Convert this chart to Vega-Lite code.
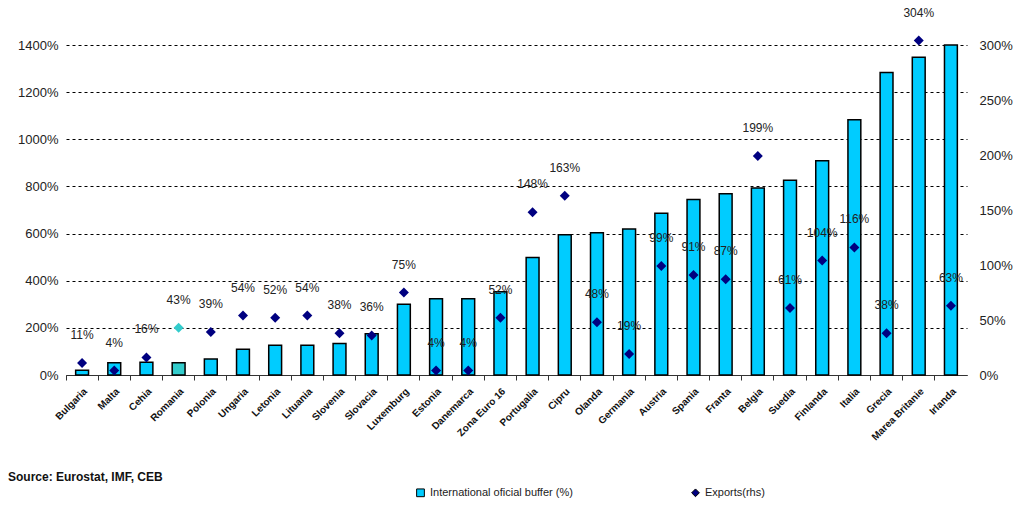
{
  "$schema": "https://vega.github.io/schema/vega-lite/v6.json",
  "autosize": {"type": "none"},
  "width": 901,
  "height": 330,
  "padding": {"left": 66, "top": 45, "right": 61, "bottom": 130},
  "background": "white",
  "config": {
    "view": {"stroke": null},
    "font": "Liberation Sans",
    "axis": {"labelFont": "Liberation Sans", "titleFont": "Liberation Sans"},
    "legend": {"labelFont": "Liberation Sans"}
  },
  "title": {
    "text": "Source: Eurostat, IMF, CEB",
    "orient": "bottom",
    "anchor": "start",
    "frame": "group",
    "dx": -58,
    "offset": -27,
    "fontSize": 12,
    "fontWeight": "bold",
    "color": "#111"
  },
  "data": {
    "values": [
      {"country": "Bulgaria", "buffer": 20, "exports": 11, "bs": "International oficial buffer (%)", "es": "Exports(rhs)"},
      {"country": "Malta", "buffer": 52, "exports": 4, "bs": "International oficial buffer (%)", "es": "Exports(rhs)"},
      {"country": "Cehia", "buffer": 54, "exports": 16, "bs": "International oficial buffer (%)", "es": "Exports(rhs)"},
      {"country": "Romania", "buffer": 52, "exports": 43, "bs": "Romania buffer", "es": "Romania exports"},
      {"country": "Polonia", "buffer": 68, "exports": 39, "bs": "International oficial buffer (%)", "es": "Exports(rhs)"},
      {"country": "Ungaria", "buffer": 109, "exports": 54, "bs": "International oficial buffer (%)", "es": "Exports(rhs)"},
      {"country": "Letonia", "buffer": 126, "exports": 52, "bs": "International oficial buffer (%)", "es": "Exports(rhs)"},
      {"country": "Lituania", "buffer": 126, "exports": 54, "bs": "International oficial buffer (%)", "es": "Exports(rhs)"},
      {"country": "Slovenia", "buffer": 134, "exports": 38, "bs": "International oficial buffer (%)", "es": "Exports(rhs)"},
      {"country": "Slovacia", "buffer": 175, "exports": 36, "bs": "International oficial buffer (%)", "es": "Exports(rhs)"},
      {"country": "Luxemburg", "buffer": 300, "exports": 75, "bs": "International oficial buffer (%)", "es": "Exports(rhs)"},
      {"country": "Estonia", "buffer": 324, "exports": 4, "bs": "International oficial buffer (%)", "es": "Exports(rhs)"},
      {"country": "Danemarca", "buffer": 324, "exports": 4, "bs": "International oficial buffer (%)", "es": "Exports(rhs)"},
      {"country": "Zona Euro 16", "buffer": 353, "exports": 52, "bs": "International oficial buffer (%)", "es": "Exports(rhs)"},
      {"country": "Portugalia", "buffer": 498, "exports": 148, "bs": "International oficial buffer (%)", "es": "Exports(rhs)"},
      {"country": "Cipru", "buffer": 595, "exports": 163, "bs": "International oficial buffer (%)", "es": "Exports(rhs)"},
      {"country": "Olanda", "buffer": 604, "exports": 48, "bs": "International oficial buffer (%)", "es": "Exports(rhs)"},
      {"country": "Germania", "buffer": 619, "exports": 19, "bs": "International oficial buffer (%)", "es": "Exports(rhs)"},
      {"country": "Austria", "buffer": 686, "exports": 99, "bs": "International oficial buffer (%)", "es": "Exports(rhs)"},
      {"country": "Spania", "buffer": 745, "exports": 91, "bs": "International oficial buffer (%)", "es": "Exports(rhs)"},
      {"country": "Franta", "buffer": 769, "exports": 87, "bs": "International oficial buffer (%)", "es": "Exports(rhs)"},
      {"country": "Belgia", "buffer": 793, "exports": 199, "bs": "International oficial buffer (%)", "es": "Exports(rhs)"},
      {"country": "Suedia", "buffer": 826, "exports": 61, "bs": "International oficial buffer (%)", "es": "Exports(rhs)"},
      {"country": "Finlanda", "buffer": 909, "exports": 104, "bs": "International oficial buffer (%)", "es": "Exports(rhs)"},
      {"country": "Italia", "buffer": 1083, "exports": 116, "bs": "International oficial buffer (%)", "es": "Exports(rhs)"},
      {"country": "Grecia", "buffer": 1283, "exports": 38, "bs": "International oficial buffer (%)", "es": "Exports(rhs)"},
      {"country": "Marea Britanie", "buffer": 1348, "exports": 304, "bs": "International oficial buffer (%)", "es": "Exports(rhs)"},
      {"country": "Irlanda", "buffer": 1400, "exports": 63, "bs": "International oficial buffer (%)", "es": "Exports(rhs)"}
    ]
  },
  "encoding": {
    "x": {
      "field": "country",
      "type": "nominal",
      "sort": null,
      "scale": {"paddingInner": 0, "paddingOuter": 0},
      "axis": {
        "title": null,
        "labelAngle": -45,
        "labelAlign": "right",
        "labelBaseline": "top",
        "labelFontSize": 10,
        "labelFontWeight": "bold",
        "labelColor": "#111",
        "labelPadding": 6,
        "bandPosition": 0,
        "ticks": true,
        "tickSize": 5,
        "tickColor": "#333",
        "domainColor": "#333",
        "domainWidth": 1,
        "grid": false
      }
    }
  },
  "layer": [
    {
      "mark": {"type": "bar", "width": {"band": 0.4}, "stroke": "black", "strokeWidth": 1.5},
      "encoding": {
        "y": {
          "field": "buffer",
          "type": "quantitative",
          "scale": {"domain": [0, 1400], "nice": false},
          "axis": {
            "title": null,
            "values": [0, 200, 400, 600, 800, 1000, 1200, 1400],
            "labelExpr": "datum.value + '%'",
            "labelFontSize": 13,
            "labelColor": "#222",
            "labelPadding": 8,
            "domain": false,
            "ticks": false,
            "grid": true,
            "gridColor": "black",
            "gridDash": [3, 3],
            "gridWidth": 1
          }
        },
        "color": {
          "field": "bs",
          "type": "nominal",
          "scale": {
            "domain": ["International oficial buffer (%)", "Exports(rhs)", "Romania buffer", "Romania exports"],
            "range": ["#00CCFF", "#000080", "#33CCCC", "#33CCCC"]
          },
          "legend": {
            "values": ["International oficial buffer (%)", "Exports(rhs)"],
            "title": null,
            "orient": "none",
            "direction": "horizontal",
            "legendX": 349,
            "legendY": 442,
            "labelFontSize": 11,
            "labelColor": "#222",
            "columnPadding": 116,
            "symbolSize": 60,
            "symbolStrokeColor": "black",
            "symbolStrokeWidth": 1,
            "labelLimit": 300
          }
        }
      }
    },
    {
      "mark": {"type": "point", "filled": true, "size": 100, "opacity": 1},
      "encoding": {
        "y": {
          "field": "exports",
          "type": "quantitative",
          "scale": {"domain": [0, 300], "nice": false},
          "axis": {
            "title": null,
            "orient": "right",
            "values": [0, 50, 100, 150, 200, 250, 300],
            "labelExpr": "datum.value + '%'",
            "labelFontSize": 13,
            "labelColor": "#222",
            "labelPadding": 12,
            "domain": false,
            "ticks": false,
            "grid": false
          }
        },
        "color": {"field": "es", "type": "nominal"},
        "shape": {
          "field": "es",
          "type": "nominal",
          "scale": {
            "domain": ["International oficial buffer (%)", "Exports(rhs)", "Romania buffer", "Romania exports"],
            "range": ["square", "diamond", "square", "diamond"]
          },
          "legend": {
            "values": ["International oficial buffer (%)", "Exports(rhs)"],
            "title": null,
            "orient": "none",
            "direction": "horizontal",
            "legendX": 349,
            "legendY": 442,
            "labelFontSize": 11,
            "labelColor": "#222",
            "columnPadding": 116,
            "symbolSize": 60,
            "symbolStrokeColor": "black",
            "symbolStrokeWidth": 1,
            "labelLimit": 300
          }
        }
      }
    },
    {
      "mark": {"type": "text", "dy": -28, "fontSize": 12, "color": "#222", "text": {"expr": "datum.exports + '%'"}},
      "encoding": {
        "y": {
          "field": "exports",
          "type": "quantitative",
          "scale": {"domain": [0, 300], "nice": false},
          "axis": null
        }
      }
    }
  ],
  "resolve": {"scale": {"y": "independent"}}
}
